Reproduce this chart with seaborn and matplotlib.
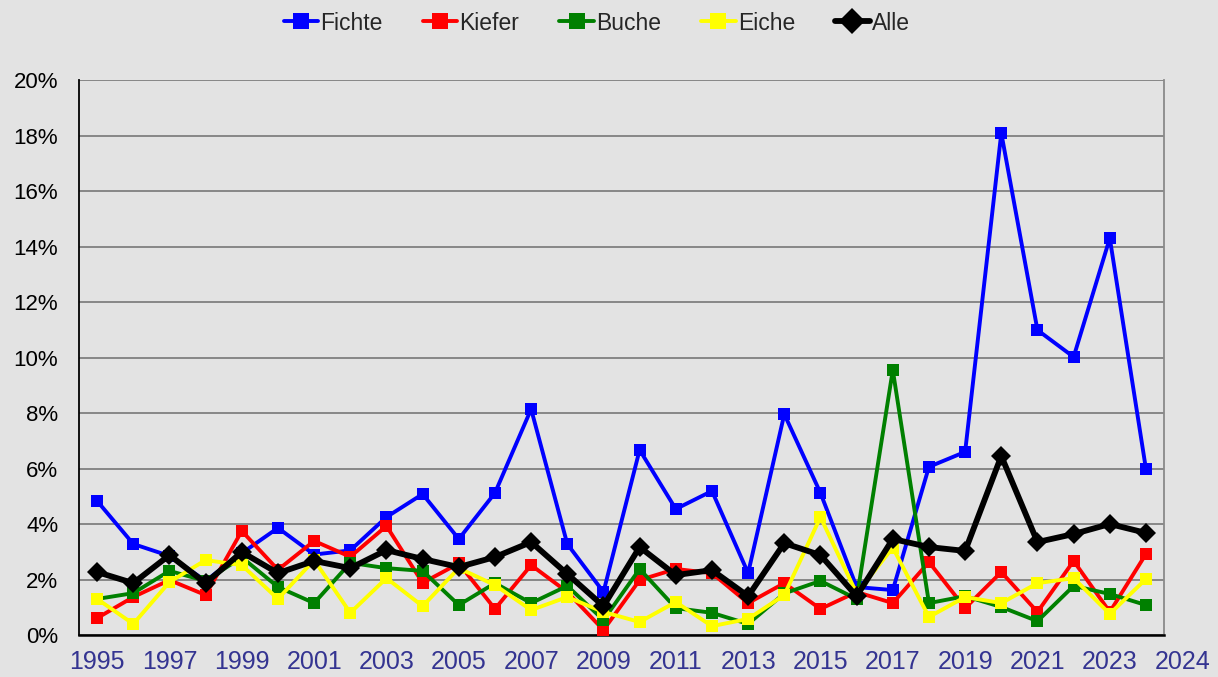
import matplotlib
matplotlib.use("Agg")
import matplotlib.pyplot as plt
import seaborn as sns
import pandas as pd
from matplotlib.ticker import PercentFormatter, FixedLocator

years = list(range(1995, 2025))

# Schadanteile in Prozent
fichte = [4.83, 3.28, 2.85, 1.95, 2.95, 3.86, 2.9, 3.05, 4.25, 5.08,
          3.46, 5.12, 8.14, 3.28, 1.55, 6.67, 4.54, 5.19, 2.23, 7.96,
          5.12, 1.73, 1.62, 6.06, 6.6, 18.09, 10.99, 10.02, 14.3, 5.98]
kiefer = [0.61, 1.37, 1.98, 1.44, 3.75, 2.35, 3.39, 2.82, 3.93, 1.88,
          2.58, 0.94, 2.52, 1.55, 0.18, 1.98, 2.38, 2.23, 1.15, 1.87,
          0.94, 1.55, 1.15, 2.63, 0.97, 2.27, 0.83, 2.67, 0.83, 2.92]
buche = [1.3, 1.51, 2.31, 1.95, 2.8, 1.73, 1.15, 2.6, 2.41, 2.31,
         1.08, 1.87, 1.15, 1.77, 0.54, 2.38, 0.97, 0.8, 0.4, 1.5,
         1.95, 1.3, 9.55, 1.15, 1.4, 1.01, 0.5, 1.77, 1.48, 1.08]
eiche = [1.3, 0.4, 1.91, 2.7, 2.52, 1.3, 2.7, 0.8, 2.05, 1.04,
         2.41, 1.8, 0.9, 1.37, 0.83, 0.47, 1.19, 0.32, 0.58, 1.44,
         4.25, 1.5, 3.15, 0.65, 1.37, 1.15, 1.87, 2.05, 0.76, 2.02]
alle = [2.27, 1.87, 2.88, 1.87, 2.99, 2.23, 2.67, 2.41, 3.06, 2.74,
        2.45, 2.81, 3.35, 2.2, 1.04, 3.17, 2.16, 2.34, 1.4, 3.31,
        2.88, 1.4, 3.46, 3.17, 3.03, 6.45, 3.35, 3.64, 4.0, 3.68]

series_names = ["Fichte", "Kiefer", "Buche", "Eiche", "Alle"]
series_values = [fichte, kiefer, buche, eiche, alle]
series_colors = ["#0000ff", "#ff0000", "#008000", "#ffff00", "#000000"]

xtick_labels = ["1995", "1997", "1999", "2001", "2003", "2005", "2007",
                "2009", "2011", "2013", "2015", "2017", "2019", "2021",
                "2023", "2024"]
yticks = list(range(0, 21, 2))

df = pd.DataFrame({"Jahr": years})
for name, vals in zip(series_names, series_values):
    df[name] = vals

bg = "#e3e3e3"
sns.set_style("white", {"axes.facecolor": bg, "figure.facecolor": bg})
plt.rcParams["font.family"] = ["Liberation Sans", "DejaVu Sans"]
narrow = ["Liberation Sans Narrow", "Liberation Sans", "DejaVu Sans"]

fig = plt.figure(figsize=(12.18, 6.77), dpi=100)
ax = fig.add_axes([0.0649, 0.062, 0.8908, 0.8198])

for name, col in zip(series_names, series_colors):
    if name == "Alle":
        sns.lineplot(data=df, x="Jahr", y=name, ax=ax, color=col, label=name,
                     marker="D", markersize=10, markeredgewidth=0,
                     linewidth=4.2, zorder=5)
    else:
        sns.lineplot(data=df, x="Jahr", y=name, ax=ax, color=col, label=name,
                     marker="s", markersize=9, markeredgewidth=0,
                     linewidth=2.8, zorder=3)

ax.set_xlim(years[0] - 0.5, years[-1] + 0.5)
ax.set_ylim(0, 20)
ax.set_xlabel("")
ax.set_ylabel("")

ax.set_yticks(yticks)
ax.yaxis.set_major_formatter(PercentFormatter(xmax=100, decimals=0))
ax.grid(axis="y", color="#6e6e6e", linewidth=1.1, zorder=0)
ax.set_axisbelow(True)
ax.tick_params(axis="y", length=5, width=1, color="#777777", pad=10,
               labelsize=16, labelcolor="black")

# Jahreszahlen zwischen den Tickstrichen, wie in der Vorlage
inside = [int(t) for t in xtick_labels[:-1]]
ax.set_xticks(inside)
ax.set_xticklabels(xtick_labels[:-1])
ax.xaxis.set_minor_locator(FixedLocator([y - 0.5 for y in years] + [years[-1] + 0.5]))
ax.xaxis.set_minor_formatter(plt.NullFormatter())
ax.tick_params(axis="x", which="major", length=0, pad=11,
               labelsize=18, labelcolor="#343491")
ax.tick_params(axis="x", which="minor", length=5, width=1, color="#555555")
for lab in ax.get_xticklabels():
    lab.set_family(narrow)
# letzte Beschriftung liegt in der Vorlage rechts ausserhalb der Zeichenfläche
ax.annotate(xtick_labels[-1], xy=(inside[-1] + 2, 0), xycoords=("data", "axes fraction"),
            xytext=(0, -11), textcoords="offset points", ha="center", va="top",
            fontsize=18, color="#343491", annotation_clip=False, family=narrow)

ax.spines["top"].set_visible(False)
ax.spines["left"].set_color("black")
ax.spines["left"].set_linewidth(1.3)
ax.spines["bottom"].set_color("black")
ax.spines["bottom"].set_linewidth(1.8)
ax.spines["right"].set_color("#8a8a8a")
ax.spines["right"].set_linewidth(1.3)

handles, labels = ax.get_legend_handles_labels()
ax.get_legend().remove()
fig.legend(handles, labels, loc="center", bbox_to_anchor=(0.49, 0.966), ncol=5,
           frameon=False, fontsize=16.5, handlelength=1.5, handletextpad=0.1,
           columnspacing=1.75, markerscale=1.35)

fig.savefig("out.png", dpi=100, facecolor=bg)
